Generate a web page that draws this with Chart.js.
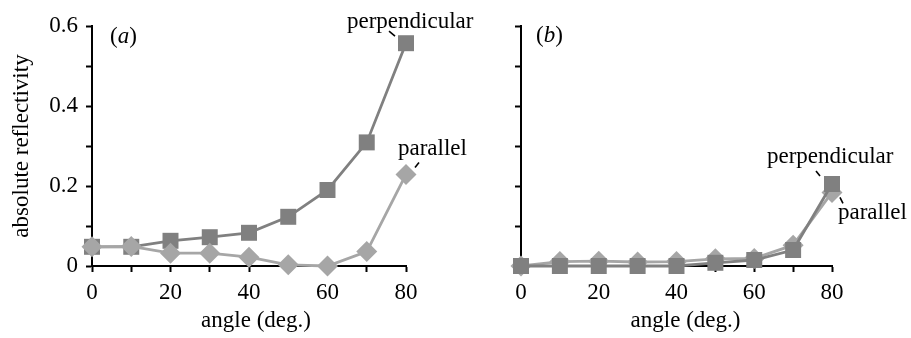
<!DOCTYPE html>
<html>
<head>
  <title>absolute reflectivity vs angle</title>
  <meta charset="utf-8" />
  <style>
    body { margin: 0; background: #fff; }
    #wrap { position: relative; width: 911px; height: 338px; overflow: hidden; }
    #chart-a { position: absolute; left: 0; top: 0; }
    #chart-b { position: absolute; left: 460px; top: 0; }
  </style>
</head>
<body>
  <div id="wrap">
    <canvas id="chart-a" width="480" height="338"></canvas>
    <canvas id="chart-b" width="451" height="338"></canvas>
  </div>

  <script src="https://cdn.jsdelivr.net/npm/chart.js"></script>
  <script>
    // data
    const angles = [0, 10, 20, 30, 40, 50, 60, 70, 80];
    const perpA = [0.048, 0.048, 0.063, 0.072, 0.083, 0.123, 0.19, 0.309, 0.557];
    const parA  = [0.048, 0.049, 0.032, 0.032, 0.022, 0.003, 0.0, 0.036, 0.229];
    const perpB = [0.0, 0.0, 0.0, 0.0, 0.0, 0.008, 0.015, 0.04, 0.205];
    const parB  = [0.0, 0.011, 0.012, 0.01, 0.011, 0.018, 0.019, 0.052, 0.184];

    const PERP = 'rgb(128,128,128)';
    const PAR = 'rgb(166,166,166)';
    const FONT = "'Liberation Serif', 'Times New Roman', serif";

    function pts(vals) {
      return angles.map((a, i) => ({ x: a, y: vals[i] }));
    }

    function perpSet(vals) {
      return {
        label: 'perpendicular', data: pts(vals),
        borderColor: PERP, backgroundColor: PERP, borderWidth: 2.8,
        pointStyle: 'rect', pointRadius: 11.3, pointBorderWidth: 0,
        clip: false, tension: 0
      };
    }
    function parSet(vals) {
      return {
        label: 'parallel', data: pts(vals),
        borderColor: PAR, backgroundColor: PAR, borderWidth: 2.8,
        pointStyle: 'rectRot', pointRadius: 10.5, pointBorderWidth: 0,
        clip: false, tension: 0
      };
    }

    // text labels + leader lines, placed relative to a data point or the plot area
    const notesPlugin = {
      id: 'notes',
      afterDatasetsDraw(chart, args, opts) {
        const ctx = chart.ctx;
        const area = chart.chartArea;
        ctx.save();
        ctx.fillStyle = '#000';
        ctx.strokeStyle = '#000';
        ctx.lineWidth = 1.6;
        ctx.textBaseline = 'alphabetic';
        (opts.items || []).forEach(n => {
          let x0 = area.left, y0 = area.top;
          if (n.point) {
            const el = chart.getDatasetMeta(n.point[0]).data[n.point[1]];
            x0 = el.x; y0 = el.y;
          } else if (n.below) {
            x0 = (area.left + area.right) / 2; y0 = area.bottom;
          }
          ctx.textAlign = n.below ? 'center' : 'left';
          let x = x0 + n.dx;
          n.parts.forEach(p => {
            ctx.font = (p.italic ? 'italic ' : '') + '23px ' + FONT;
            ctx.fillText(p.t, x, y0 + n.dy);
            x += ctx.measureText(p.t).width;
          });
          if (n.lead) {
            ctx.beginPath();
            ctx.moveTo(x0 + n.lead[0], y0 + n.lead[1]);
            ctx.lineTo(x0 + n.lead[2], y0 + n.lead[3]);
            ctx.stroke();
          }
        });
        ctx.restore();
      }
    };

    function makeChart(id, datasets, showY, yWidth, padRight, notes) {
      const ctx = document.getElementById(id).getContext('2d');
      return new Chart(ctx, {
        type: 'line',
        data: { datasets: datasets },
        plugins: [notesPlugin],
        options: {
          responsive: false,
          animation: false,
          layout: { padding: { left: 0, top: 26, right: padRight, bottom: 0 } },
          plugins: {
            legend: { display: false },
            tooltip: { enabled: false },
            notes: { items: notes }
          },
          scales: {
            x: {
              type: 'linear', min: 0, max: 80,
              afterFit: s => { s.height = 72; },
              border: { display: true, color: '#000', width: 2 },
              grid: { drawOnChartArea: false, drawTicks: true, tickLength: 6, tickWidth: 2, tickColor: '#000' },
              ticks: {
                stepSize: 10, autoSkip: false, maxRotation: 0, padding: 7,
                color: '#000', font: { family: FONT, size: 23 },
                callback: v => (v % 20 ? '' : String(v))
              }
            },
            y: {
              min: 0, max: 0.6,
              afterFit: s => { s.width = yWidth; },
              border: { display: true, color: '#000', width: 2 },
              grid: { drawOnChartArea: false, drawTicks: true, tickLength: 6, tickWidth: 2, tickColor: '#000' },
              ticks: {
                stepSize: 0.1, padding: 8, color: '#000',
                font: { family: FONT, size: 23 },
                callback: v => {
                  if (!showY) return '';
                  const k = Math.round(v * 10);
                  return k % 2 ? '' : (k === 0 ? '0' : (k / 10).toFixed(1));
                }
              },
              title: {
                display: showY, text: 'absolute reflectivity', color: '#000',
                font: { family: FONT, size: 23 }, padding: { top: 8, bottom: 0 }
              }
            }
          }
        }
      });
    }

    // panel (a): parallel drawn on top
    makeChart('chart-a', [parSet(parA), perpSet(perpA)], true, 92, 74, [
      { parts: [{ t: '(' }, { t: 'a', italic: true }, { t: ')' }], dx: 18, dy: 17 },
      { point: [1, 8], parts: [{ t: 'perpendicular' }], dx: -59, dy: -15, lead: [-17, -12, -11, -7] },
      { point: [0, 8], parts: [{ t: 'parallel' }], dx: -8, dy: -19, lead: [13, -12, 9, -7] },
      { below: true, parts: [{ t: 'angle (deg.)' }], dx: 7, dy: 61 }
    ]);

    // panel (b): perpendicular drawn on top
    makeChart('chart-b', [perpSet(perpB), parSet(parB)], false, 61, 79, [
      { parts: [{ t: '(' }, { t: 'b', italic: true }, { t: ')' }], dx: 15, dy: 16 },
      { point: [0, 8], parts: [{ t: 'perpendicular' }], dx: -65, dy: -21, lead: [-16, -13, -12, -8] },
      { point: [1, 8], parts: [{ t: 'parallel' }], dx: 6, dy: 27, lead: [8, 5, 11, 11] },
      { below: true, parts: [{ t: 'angle (deg.)' }], dx: 9, dy: 61 }
    ]);
  </script>
</body>
</html>
